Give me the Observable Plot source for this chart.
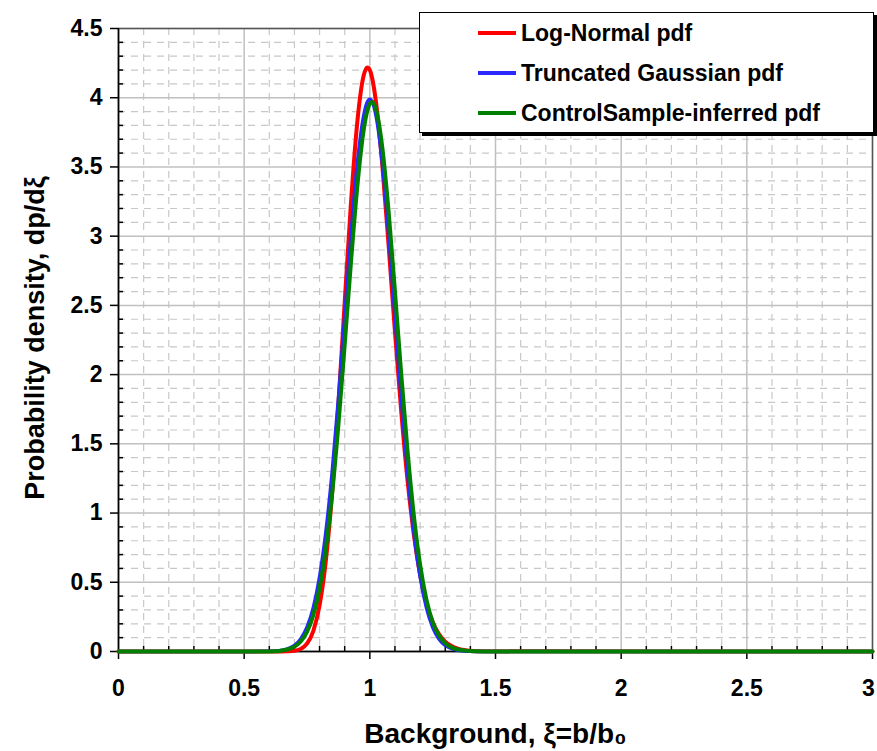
<!DOCTYPE html>
<html><head><meta charset="utf-8">
<script src="https://cdn.jsdelivr.net/npm/d3@7"></script>
<script src="https://cdn.jsdelivr.net/npm/@observablehq/plot@0.6"></script>
<style>
body{margin:0;background:#fff;}
#wrap{position:relative;width:877px;height:751px;font-family:"Liberation Sans",Arial,sans-serif;}
#legend{position:absolute;left:419px;top:12px;width:453px;height:119px;border:1.5px solid #000;background:#fff;box-shadow:3px 3px 0 #000;}
.item{position:absolute;left:58px;font-weight:bold;font-size:23px;color:#000;line-height:1;}
.item span.sw{display:inline-block;width:38px;height:4px;vertical-align:middle;margin-right:5px;position:relative;top:-2px;}
</style></head><body><div id="wrap"></div>
<script>
// Background ξ values (x)
const xs = [0, 0.6, 0.625, 0.65, 0.675, 0.7, 0.725, 0.75, 0.775, 0.8, 0.825, 0.85, 0.875, 0.9, 0.925, 0.95, 0.975, 0.99, 1.0, 1.01, 1.025, 1.05, 1.075, 1.1, 1.125, 1.15, 1.175, 1.2, 1.225, 1.25, 1.275, 1.3, 1.325, 1.35, 1.375, 1.4, 1.425, 1.45, 3];
// Log-Normal pdf
const logNormal = [0, 0, 0, 0, 0.001, 0.005, 0.019, 0.057, 0.148, 0.333, 0.655, 1.144, 1.787, 2.523, 3.242, 3.821, 4.157, 4.218, 4.199, 4.135, 3.961, 3.505, 2.924, 2.308, 1.731, 1.237, 0.846, 0.555, 0.350, 0.213, 0.125, 0.071, 0.039, 0.021, 0.011, 0.005, 0.002, 0.001, 0];
// Truncated Gaussian pdf
const truncGauss = [0, 0.001, 0.003, 0.009, 0.020, 0.044, 0.091, 0.175, 0.317, 0.540, 0.863, 1.295, 1.826, 2.420, 3.011, 3.521, 3.866, 3.969, 3.989, 3.969, 3.866, 3.521, 3.011, 2.420, 1.826, 1.295, 0.863, 0.540, 0.317, 0.175, 0.091, 0.044, 0.020, 0.009, 0.003, 0.001, 0, 0, 0];
// ControlSample-inferred pdf
const controlSample = [0, 0, 0.001, 0.007, 0.016, 0.035, 0.072, 0.142, 0.263, 0.457, 0.744, 1.139, 1.639, 2.216, 2.813, 3.355, 3.760, 3.906, 3.957, 3.969, 3.913, 3.635, 3.172, 2.600, 2.002, 1.449, 0.985, 0.628, 0.377, 0.212, 0.115, 0.060, 0.030, 0.015, 0.008, 0.003, 0.001, 0, 0];

const seriesNames = ["Log-Normal pdf", "Truncated Gaussian pdf", "ControlSample-inferred pdf"];
const seriesColors = ["#ff0000", "#2a2aff", "#008000"];

const xMajor = [0, 0.5, 1, 1.5, 2, 2.5, 3];
const yMajor = [0, 0.5, 1, 1.5, 2, 2.5, 3, 3.5, 4, 4.5];
const xMinor = d3.range(0, 31).map(i => i / 10).filter(v => Math.round(v * 10) % 5 !== 0);
const yMinor = d3.range(0, 46).map(i => i / 10).filter(v => Math.round(v * 10) % 5 !== 0);

const mk = vals => xs.map((x, i) => ({x, y: vals[i]}));
const dLN = mk(logNormal), dTG = mk(truncGauss), dCS = mk(controlSample);

const font = "Liberation Sans, Arial, sans-serif";
const lastX = xMajor[xMajor.length - 1];
const chart = Plot.plot({
  width: 877, height: 751,
  marginLeft: 118, marginRight: 5, marginTop: 28, marginBottom: 100,
  style: {fontFamily: font, background: "#fff"},
  x: {domain: [0, 3]},
  y: {domain: [0, 4.5]},
  marks: [
    Plot.gridX(xMinor, {stroke: "#c8c8c8", strokeOpacity: 1, strokeWidth: 1.2, strokeDasharray: "7,6"}),
    Plot.gridY(yMinor, {stroke: "#c8c8c8", strokeOpacity: 1, strokeWidth: 1.2, strokeDasharray: "7,6"}),
    Plot.gridX(xMajor, {stroke: "#c0c0c0", strokeOpacity: 1, strokeWidth: 1.5}),
    Plot.gridY(yMajor, {stroke: "#c0c0c0", strokeOpacity: 1, strokeWidth: 1.5}),
    Plot.frame({stroke: "#555", strokeWidth: 1.5}),
    Plot.axisX(xMinor, {tickSize: -5, text: null, label: null, strokeWidth: 1.5}),
    Plot.axisY(yMinor, {tickSize: -5, text: null, label: null, strokeWidth: 1.5}),
    Plot.axisX(xMajor, {tickSize: 8, text: null, label: null, strokeWidth: 1.5}),
    Plot.axisX(xMajor.filter(v => v !== lastX), {tickSize: 0, tickPadding: 28, label: null, fontSize: 23, fontWeight: "bold", tickFormat: d => String(d)}),
    Plot.axisX([lastX], {tickSize: 0, tickPadding: 28, dx: -4, label: null, fontSize: 23, fontWeight: "bold", tickFormat: d => String(d)}),
    Plot.axisY(yMajor, {tickSize: 8, tickPadding: 8, label: null, fontSize: 23, fontWeight: "bold", strokeWidth: 1.5, tickFormat: d => String(d)}),
    Plot.ruleY([0], {stroke: "#000", strokeWidth: 1.5}),
    Plot.ruleX([0], {stroke: "#000", strokeWidth: 1.5}),
    Plot.line(dLN, {x: "x", y: "y", stroke: seriesColors[0], strokeWidth: 4, curve: "monotone-x"}),
    Plot.line(dTG, {x: "x", y: "y", stroke: seriesColors[1], strokeWidth: 3.5, curve: "monotone-x"}),
    Plot.line(dCS, {x: "x", y: "y", stroke: seriesColors[2], strokeWidth: 4, curve: "monotone-x"}),
    Plot.text(["Probability density, dp/dξ"], {frameAnchor: "left", textAnchor: "middle", dx: -83, dy: -2, rotate: -90, fontSize: 27, fontWeight: "bold", fill: "#000"}),
    Plot.text(["Background, ξ=b/b₀"], {frameAnchor: "bottom", textAnchor: "middle", dy: 91, fontSize: 28, fontWeight: "bold", fill: "#000"})
  ]
});
const wrap = document.getElementById("wrap");
wrap.appendChild(chart);
const leg = document.createElement("div");
leg.id = "legend";
seriesNames.forEach((n, i) => {
  const it = document.createElement("div");
  it.className = "item";
  it.style.top = (9 + i * 40) + "px";
  const sw = document.createElement("span");
  sw.className = "sw";
  sw.style.background = seriesColors[i];
  it.appendChild(sw);
  it.appendChild(document.createTextNode(n));
  leg.appendChild(it);
});
wrap.appendChild(leg);
</script></body></html>
